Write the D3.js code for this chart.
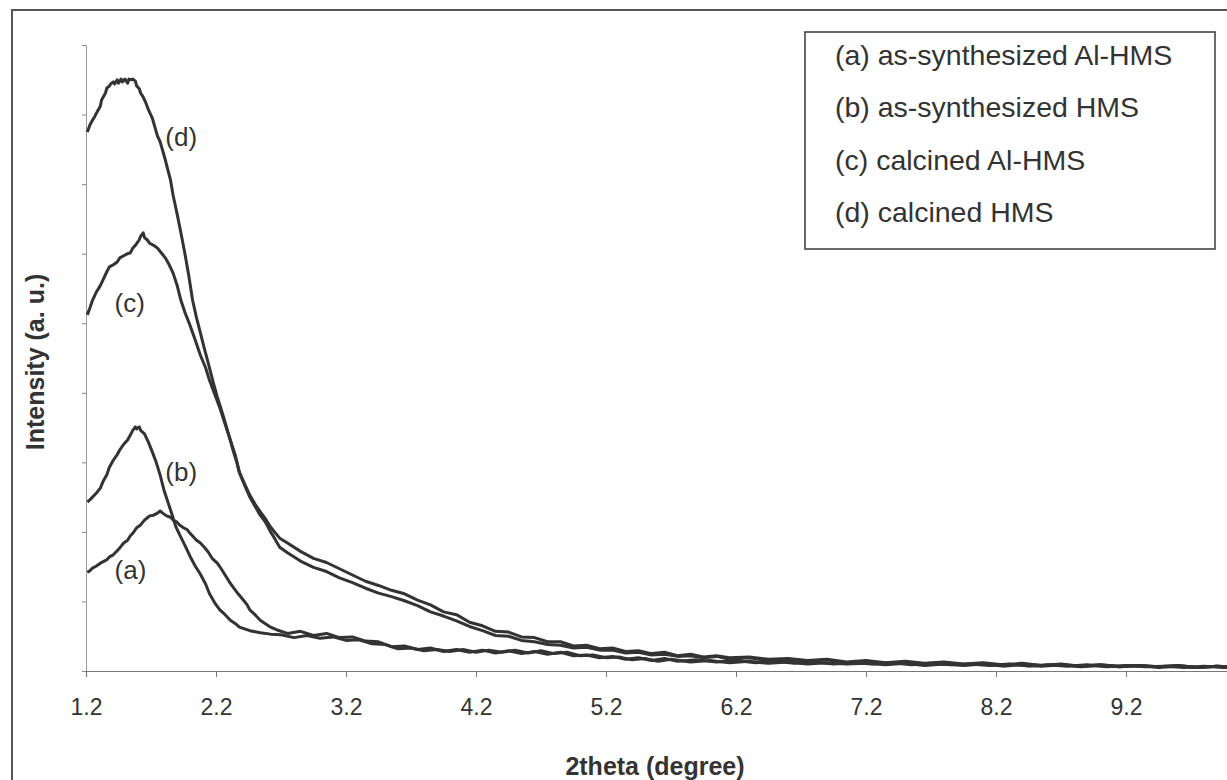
<!DOCTYPE html>
<html>
<head>
<meta charset="utf-8">
<script src="https://cdn.jsdelivr.net/npm/d3@7"></script>
<style>
  html, body { margin: 0; padding: 0; background: #fff; }
  svg { display: block; }
  text { font-family: "Liberation Sans", Arial, sans-serif; fill: #333; }
</style>
</head>
<body>
<svg id="chart" width="1227" height="780"></svg>
<script>
// ---- data (2theta in degree, intensity in a.u.) ----
const xTicks = [1.2, 2.2, 3.2, 4.2, 5.2, 6.2, 7.2, 8.2, 9.2];
const yTicks = [0, 100, 200, 300, 400, 500, 600, 700, 800, 900];

const seriesNames = ["(a) as-synthesized Al-HMS", "(b) as-synthesized HMS", "(c) calcined Al-HMS", "(d) calcined HMS"];
const curveLabels = ["(a)", "(b)", "(c)", "(d)"];
const labelAnchors = [[1.42, 132], [1.81, 273], [1.42, 516], [1.81, 755]];

const seriesA = [
  [1.21,142],[1.23,144],[1.25,148],[1.28,151],[1.31,155],[1.34,158],[1.36,160],[1.38,164],[1.41,167],[1.44,173],
  [1.46,177],[1.49,184],[1.52,188],[1.54,194],[1.56,198],[1.59,206],[1.62,210],[1.65,217],[1.67,220],[1.69,223],
  [1.72,224],[1.75,227],[1.77,230],[1.79,227],[1.82,223],[1.85,221],[1.87,217],[1.90,214],[1.92,210],[1.95,206],
  [1.98,203],[2.00,198],[2.02,194],[2.05,188],[2.08,184],[2.11,178],[2.14,171],[2.17,162],[2.21,155],[2.24,147],
  [2.27,138],[2.30,129],[2.33,121],[2.37,111],[2.41,102],[2.44,95],[2.46,88],[2.50,81],[2.54,73],[2.58,68],
  [2.62,63],[2.67,59],[2.75,54],[2.85,57],[2.95,51],[3.05,54],[3.15,48],[3.25,49],[3.35,43],[3.45,42],
  [3.55,35],[3.65,36],[3.75,31],[3.85,33],[3.95,28],[4.05,31],[4.15,27],[4.25,30],[4.35,26],[4.45,29],
  [4.55,25],[4.65,28],[4.75,24],[4.85,27],[4.95,22],[5.05,23],[5.15,19],[5.25,21],[5.35,17],[5.45,19],
  [5.55,15],[5.65,18],[5.75,14],[5.90,16],[6.05,13],[6.20,15],[6.35,12],[6.50,14],[6.65,11],[6.80,13],
  [6.95,10],[7.10,12],[7.25,10],[7.40,12],[7.55,9],[7.70,11],[7.85,9],[8.00,10],[8.15,8],[8.30,10],
  [8.45,7],[8.60,9],[8.75,7],[8.90,9],[9.05,6],[9.20,8],[9.35,6],[9.50,7],[9.65,5],[9.80,7],
  [9.95,5],[10.10,6],[10.20,5]
];
const seriesB = [
  [1.21,243],[1.23,246],[1.25,250],[1.28,256],[1.31,263],[1.33,272],[1.36,282],[1.38,293],[1.41,303],[1.44,311],
  [1.46,318],[1.49,326],[1.52,332],[1.54,339],[1.56,346],[1.58,351],[1.59,348],[1.61,351],[1.62,346],[1.65,341],
  [1.68,329],[1.71,315],[1.74,300],[1.77,282],[1.80,260],[1.83,243],[1.86,226],[1.89,208],[1.92,196],[1.96,181],
  [2.00,165],[2.04,151],[2.08,139],[2.12,125],[2.15,111],[2.19,98],[2.23,88],[2.27,81],[2.31,73],[2.35,68],
  [2.38,63],[2.46,58],[2.54,55],[2.62,53],[2.70,52],[2.80,48],[2.90,51],[3.00,47],[3.10,49],[3.20,44],
  [3.30,45],[3.40,39],[3.50,38],[3.60,32],[3.70,33],[3.80,29],[3.90,31],[4.00,28],[4.10,31],[4.20,27],
  [4.30,30],[4.40,27],[4.50,30],[4.60,26],[4.70,29],[4.80,25],[4.90,27],[5.00,22],[5.10,23],[5.20,19],
  [5.30,20],[5.40,16],[5.50,18],[5.60,14],[5.70,17],[5.85,13],[6.00,15],[6.15,12],[6.30,14],[6.45,11],
  [6.60,13],[6.75,10],[6.90,12],[7.05,10],[7.20,11],[7.35,9],[7.50,11],[7.65,8],[7.80,10],[7.95,8],
  [8.10,10],[8.25,7],[8.40,9],[8.55,7],[8.70,9],[8.85,6],[9.00,8],[9.15,6],[9.30,8],[9.45,5],
  [9.60,7],[9.75,5],[9.90,7],[10.05,5],[10.20,6]
];
const seriesC = [
  [1.21,512],[1.23,522],[1.25,533],[1.28,545],[1.31,554],[1.33,562],[1.36,574],[1.38,581],[1.41,584],[1.44,588],
  [1.46,594],[1.49,597],[1.52,600],[1.54,601],[1.56,608],[1.58,612],[1.61,620],[1.62,625],[1.64,630],[1.65,623],
  [1.67,620],[1.69,615],[1.72,612],[1.75,608],[1.78,601],[1.81,594],[1.84,584],[1.87,572],[1.90,555],[1.93,533],
  [1.96,516],[2.00,497],[2.04,476],[2.08,454],[2.12,436],[2.15,418],[2.19,398],[2.23,378],[2.27,355],[2.31,332],
  [2.35,309],[2.38,286],[2.42,269],[2.46,253],[2.50,240],[2.54,229],[2.58,219],[2.62,207],[2.65,200],[2.69,191],
  [2.75,184],[2.85,172],[2.95,162],[3.05,156],[3.15,147],[3.25,138],[3.35,129],[3.45,123],[3.55,116],[3.65,111],
  [3.75,102],[3.85,95],[3.95,85],[4.05,81],[4.15,70],[4.25,65],[4.35,57],[4.45,56],[4.55,49],[4.65,48],
  [4.75,42],[4.85,42],[4.95,36],[5.05,37],[5.15,32],[5.25,33],[5.35,28],[5.45,29],[5.55,25],[5.65,27],
  [5.75,22],[5.85,24],[5.95,20],[6.05,22],[6.15,19],[6.30,20],[6.45,17],[6.60,18],[6.75,15],[6.90,17],
  [7.05,13],[7.20,15],[7.35,12],[7.50,14],[7.65,11],[7.80,13],[7.95,10],[8.10,12],[8.25,9],[8.40,11],
  [8.55,8],[8.70,10],[8.85,7],[9.00,9],[9.15,7],[9.30,8],[9.45,6],[9.60,8],[9.75,5],[9.90,7],
  [10.05,5],[10.20,6]
];
const seriesD = [
  [1.21,775],[1.23,785],[1.25,792],[1.27,798],[1.28,802],[1.31,812],[1.32,821],[1.35,831],[1.36,838],[1.38,841],
  [1.39,844],[1.41,847],[1.42,844],[1.44,850],[1.45,845],[1.47,851],[1.48,847],[1.50,851],[1.52,845],[1.53,851],
  [1.55,850],[1.56,851],[1.58,848],[1.59,841],[1.61,837],[1.62,831],[1.64,825],[1.66,817],[1.68,807],[1.71,795],
  [1.73,782],[1.75,769],[1.77,761],[1.79,748],[1.81,735],[1.83,720],[1.85,706],[1.87,684],[1.90,658],[1.93,630],
  [1.96,601],[1.99,569],[2.02,533],[2.05,508],[2.08,486],[2.11,464],[2.14,443],[2.18,414],[2.21,394],[2.23,382],
  [2.26,364],[2.28,351],[2.31,332],[2.33,318],[2.36,300],[2.38,285],[2.42,267],[2.46,250],[2.50,237],[2.54,224],
  [2.58,214],[2.62,200],[2.65,191],[2.69,178],[2.75,170],[2.85,158],[2.95,149],[3.05,143],[3.15,134],[3.25,127],
  [3.35,119],[3.45,112],[3.55,107],[3.65,101],[3.75,94],[3.85,85],[3.95,79],[4.05,72],[4.15,64],[4.25,58],
  [4.35,51],[4.45,50],[4.55,44],[4.65,42],[4.75,38],[4.85,37],[4.95,33],[5.05,34],[5.15,30],[5.25,30],
  [5.35,26],[5.45,27],[5.55,23],[5.65,24],[5.75,21],[5.85,22],[5.95,19],[6.05,21],[6.15,17],[6.30,19],
  [6.45,15],[6.60,17],[6.75,14],[6.90,16],[7.05,12],[7.20,14],[7.35,11],[7.50,13],[7.65,10],[7.80,12],
  [7.95,9],[8.10,11],[8.25,8],[8.40,10],[8.55,8],[8.70,9],[8.85,7],[9.00,9],[9.15,6],[9.30,8],
  [9.45,6],[9.60,8],[9.75,5],[9.90,7],[10.05,5],[10.20,6]
];
const allSeries = [seriesA, seriesB, seriesC, seriesD];

// ---- layout ----
const svg = d3.select("#chart");
const x = d3.scaleLinear().domain([1.2, 10.2]).range([86, 1256]);
const y = d3.scaleLinear().domain([0, 900]).range([671, 45]);

// outer frame (extends past the right and bottom edges)
svg.append("rect").attr("x", 12).attr("y", 10).attr("width", 1240).attr("height", 800)
  .attr("fill", "none").attr("stroke", "#555").attr("stroke-width", 2);

// y axis
const yAxis = svg.append("g").attr("transform", "translate(86,0)")
  .call(d3.axisLeft(y).tickValues(yTicks).tickSize(4).tickFormat(""));
yAxis.select(".domain").attr("stroke", "#999").attr("stroke-width", 1);
yAxis.selectAll(".tick line").attr("stroke", "#888");

// x axis
const xAxis = svg.append("g").attr("transform", "translate(0,671)")
  .call(d3.axisBottom(x).tickValues(xTicks).tickSize(6).tickPadding(22).tickFormat(d3.format(".1f")));
xAxis.select(".domain").attr("stroke", "#777").attr("stroke-width", 1.2);
xAxis.selectAll(".tick line").attr("stroke", "#777");
xAxis.selectAll(".tick text").attr("font-size", 23).attr("fill", "#333")
  .attr("font-family", "'Liberation Sans', Arial, sans-serif");

// curves
const line = d3.line().x(d => x(d[0])).y(d => y(d[1]));
svg.append("g").selectAll("path").data(allSeries).join("path")
  .attr("d", line).attr("fill", "none").attr("stroke", "#333")
  .attr("stroke-width", 3).attr("stroke-linejoin", "round");

// curve labels
svg.append("g").selectAll("text").data(curveLabels).join("text")
  .attr("x", (d, i) => x(labelAnchors[i][0]))
  .attr("y", (d, i) => y(labelAnchors[i][1]))
  .attr("font-size", 26).text(d => d);

// axis titles
svg.append("text").attr("x", 655).attr("y", 775).attr("text-anchor", "middle")
  .attr("font-size", 25).attr("font-weight", "bold").text("2theta (degree)");
svg.append("text").attr("transform", "translate(44,362) rotate(-90)").attr("text-anchor", "middle")
  .attr("font-size", 25).attr("font-weight", "bold").text("Intensity (a. u.)");

// legend
const legend = svg.append("g");
legend.append("rect").attr("x", 805).attr("y", 32).attr("width", 410).attr("height", 217)
  .attr("fill", "#fff").attr("stroke", "#444").attr("stroke-width", 1.6);
legend.selectAll("text").data(seriesNames).join("text")
  .attr("x", 835).attr("y", (d, i) => 65 + i * 52.3)
  .attr("font-size", 28.5).text(d => d);
</script>
</body>
</html>
